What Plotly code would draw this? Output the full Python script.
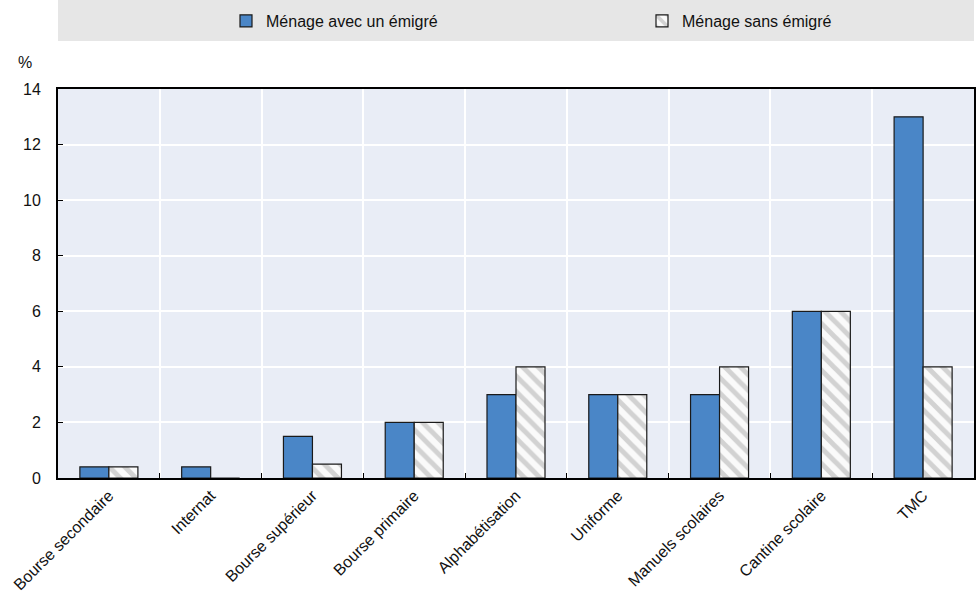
import plotly.graph_objects as go

categories = ["Bourse secondaire", "Internat", "Bourse supérieur", "Bourse primaire",
              "Alphabétisation", "Uniforme", "Manuels scolaires", "Cantine scolaire", "TMC"]
with_emigrant = [0.4, 0.4, 1.5, 2, 3, 3, 3, 6, 13]
without_emigrant = [0.4, 0, 0.5, 2, 4, 3, 4, 6, 4]
series_names = ["Ménage avec un émigré", "Ménage sans émigré"]
y_ticks = [0, 2, 4, 6, 8, 10, 12, 14]

FONT = "Liberation Sans, Arial, sans-serif"
W, H = 976, 592
L, R, T, B = 58, 2, 89, 114

fig = go.Figure()
fig.add_trace(go.Bar(
    x=categories, y=with_emigrant, name=series_names[0], legend="legend",
    marker=dict(color="#4a86c7", line=dict(color="#1a1a1a", width=1.2)),
))
fig.add_trace(go.Bar(
    x=categories, y=without_emigrant, name=series_names[1], legend="legend2",
    marker=dict(color="white", line=dict(color="#1a1a1a", width=1.2),
                pattern=dict(shape="\\", fgcolor="#a9a9a9", bgcolor="#fafafa",
                             size=11, solidity=0.45)),
))

leg_common = dict(orientation="h", xref="container", yref="container",
                  yanchor="middle", y=1 - 21 / H, xanchor="left",
                  bgcolor="rgba(0,0,0,0)", font=dict(family=FONT, size=16, color="#111"))

fig.update_layout(
    width=W, height=H,
    margin=dict(l=L, r=R, t=T, b=B, autoexpand=False),
    paper_bgcolor="white", plot_bgcolor="#e9edf6",
    font=dict(family=FONT, size=16, color="#111111"),
    barmode="group", bargap=0.43, bargroupgap=0,
    showlegend=True,
    legend=dict(x=226 / W, **leg_common),
    legend2=dict(x=642 / W, **leg_common),
    xaxis=dict(type="category", tickson="boundaries", ticks="inside", ticklen=5,
               tickcolor="black", showgrid=True, gridcolor="white", gridwidth=1.5,
               tickangle=-45, showline=True, linecolor="black", linewidth=2, mirror=True,
               tickfont=dict(family=FONT, size=16)),
    yaxis=dict(range=[0, 14], tickvals=y_ticks, ticks="inside", ticklen=5, tickcolor="black",
               showgrid=True, gridcolor="white", gridwidth=1.5, zeroline=False,
               showline=True, linecolor="black", linewidth=2, mirror=True,
               ticklabelstandoff=12, tickfont=dict(family=FONT, size=16)),
    shapes=[dict(type="rect", xref="paper", yref="paper", x0=0, x1=1,
                 y0=1 + (T - 41) / (H - T - B), y1=1 + T / (H - T - B),
                 fillcolor="#e6e6e6", line=dict(width=0), layer="below")],
    annotations=[dict(text="%", xref="paper", yref="paper", x=-33 / (W - L - R),
                      y=1 + (T - 62) / (H - T - B),
                      xanchor="center", yanchor="middle", showarrow=False,
                      font=dict(family=FONT, size=16))],
)

fig.write_html("out.html")
